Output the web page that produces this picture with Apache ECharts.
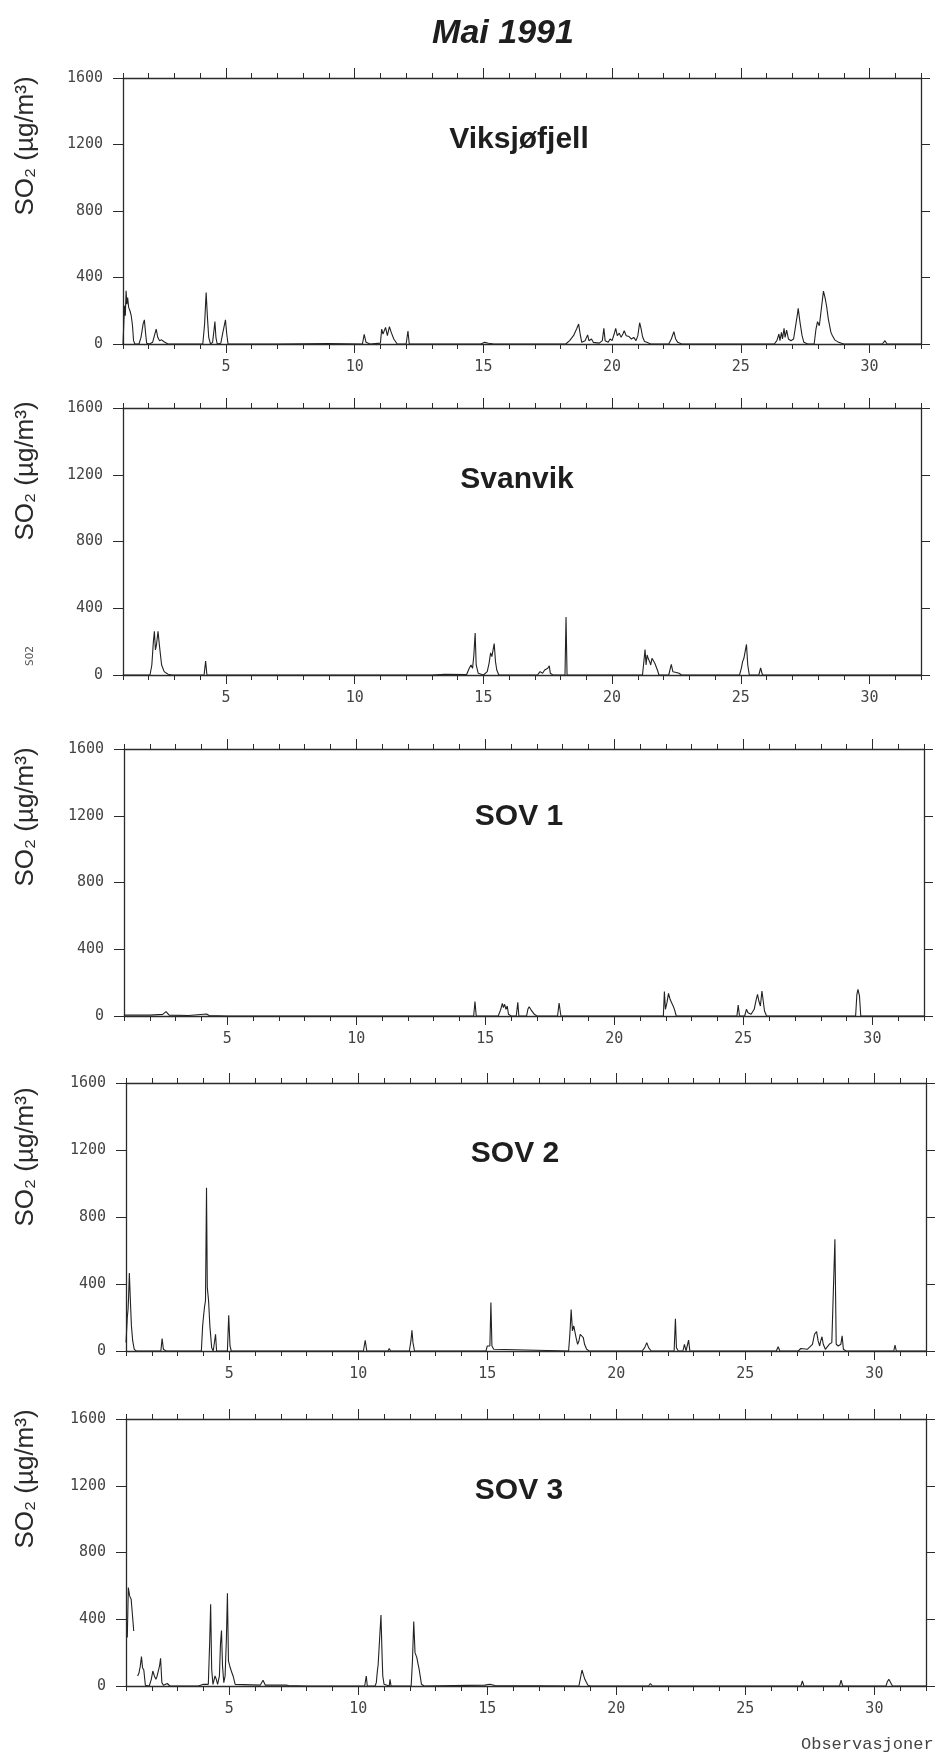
<!DOCTYPE html>
<html>
<head>
<meta charset="utf-8">
<script src="https://cdn.jsdelivr.net/npm/echarts@6/dist/echarts.min.js"></script>
<style>
html,body{margin:0;padding:0;background:#fff;}
#chart{width:939px;height:1753px;}
</style>
</head>
<body>
<div id="chart"></div>
<script>
// ---------- DATA ----------
const figureTitle = 'Mai 1991';
const stationNames = ['Viksjøfjell', 'Svanvik', 'SOV 1', 'SOV 2', 'SOV 3'];
const yAxisTitle = 'SO₂ (µg/m³)';
const xAxisTitle = 'Observasjoner';
const xMin = 1, xMax = 32;
const dayTicks = [1,2,3,4,5,6,7,8,9,10,11,12,13,14,15,16,17,18,19,20,21,22,23,24,25,26,27,28,29,30,31,32];
const dayLabels = [5, 10, 15, 20, 25, 30];
const yTicks = [0, 400, 800, 1200, 1600];

// [day of month (fractional), SO2 µg/m3]
const viksjofjell = [
  [1.0,0],[1.03,120],[1.06,230],[1.09,170],[1.12,320],[1.15,240],[1.18,280],[1.22,220],[1.27,200],[1.32,170],[1.37,110],[1.41,20],[1.46,0],
  [1.62,0],[1.7,40],[1.78,120],[1.83,145],[1.88,60],[1.92,5],[1.97,15],[2.03,0],
  [2.15,10],[2.22,50],[2.29,90],[2.35,40],[2.42,20],[2.5,25],[2.58,15],[2.66,8],[2.75,0],
  [3.5,0],[4.1,0],[4.17,120],[4.23,310],[4.28,160],[4.33,40],[4.4,0],[4.48,10],[4.54,90],[4.57,135],[4.61,40],[4.66,0],
  [4.8,5],[4.88,70],[4.93,75],[4.98,145],[5.03,60],[5.08,0],
  [7,0],[9,3],[10.3,0],[10.37,58],[10.44,10],[10.6,0],[11.0,5],[11.05,90],[11.1,60],[11.2,100],[11.27,50],[11.35,105],[11.42,70],[11.47,60],[11.52,30],[11.58,20],[11.65,0],
  [12.0,0],[12.07,78],[12.12,0],
  [14.9,0],[15.05,10],[15.2,5],[15.4,0],
  [18.2,0],[18.35,20],[18.5,50],[18.62,90],[18.7,120],[18.76,60],[18.82,10],[18.95,20],[19.05,55],[19.1,20],[19.2,30],[19.27,10],[19.5,5],
  [19.62,20],[19.68,94],[19.73,20],[19.85,10],[19.92,30],[20.0,20],[20.08,60],[20.14,94],[20.2,50],[20.28,65],[20.35,40],[20.42,60],[20.47,80],
  [20.55,50],[20.66,45],[20.75,30],[20.84,40],[20.93,20],[21.0,50],[21.07,128],[21.13,90],[21.18,45],[21.26,15],[21.35,10],[21.5,0],
  [22.2,0],[22.3,30],[22.4,74],[22.47,30],[22.55,10],[22.7,0],
  [26.3,0],[26.4,20],[26.48,60],[26.52,20],[26.58,70],[26.62,30],[26.68,94],[26.72,40],[26.78,83],[26.85,30],[26.95,20],
  [27.05,30],[27.12,100],[27.2,180],[27.23,214],[27.3,130],[27.38,50],[27.45,10],[27.6,0],
  [27.85,0],[27.92,90],[27.98,134],[28.05,110],[28.12,200],[28.21,318],[28.27,280],[28.33,230],[28.4,150],[28.45,110],[28.5,70],[28.56,50],[28.65,25],[28.8,10],[29.0,0],
  [30.5,0],[30.6,20],[30.68,0],[32,0]
];
const svanvik = [
  [1,0],[2.05,0],[2.12,60],[2.18,200],[2.22,262],[2.26,150],[2.3,180],[2.36,262],[2.42,170],[2.5,60],[2.6,20],[2.75,5],[2.9,0],
  [4.15,0],[4.21,83],[4.26,0],
  [13.0,0],[13.5,4],[14.35,3],[14.45,40],[14.52,60],[14.58,40],[14.63,120],[14.68,252],[14.72,60],[14.8,10],[15.0,0],
  [15.15,20],[15.22,70],[15.28,133],[15.33,110],[15.38,120],[15.42,188],[15.47,80],[15.52,30],[15.6,0],
  [17.1,0],[17.2,20],[17.3,10],[17.38,30],[17.45,20],[17.5,40],[17.56,55],[17.6,10],[17.7,0],
  [18.17,0],[18.21,348],[18.25,0],
  [21.18,0],[21.24,90],[21.28,153],[21.32,60],[21.36,120],[21.4,100],[21.46,80],[21.5,60],[21.55,100],[21.6,90],[21.66,70],[21.7,80],[21.76,30],[21.82,0],
  [22.2,0],[22.3,63],[22.36,20],[22.5,15],[22.6,10],[22.7,0],
  [24.95,0],[25.02,40],[25.07,80],[25.12,100],[25.17,90],[25.22,183],[25.27,60],[25.33,0],
  [25.7,0],[25.77,43],[25.84,0],[32,0]
];
const sov1 = [
  [1,5],[2,5],[2.5,10],[2.63,26],[2.75,5],[3.5,3],[4.2,12],[4.3,3],[5,0],
  [14.55,0],[14.6,86],[14.65,0],
  [15.5,0],[15.6,40],[15.66,76],[15.7,50],[15.75,70],[15.8,40],[15.85,60],[15.9,10],[16.0,0],
  [16.2,0],[16.26,82],[16.3,0],
  [16.6,0],[16.65,40],[16.7,56],[16.76,40],[16.83,35],[16.9,10],[17.0,0],
  [17.8,0],[17.86,78],[17.93,0],
  [21.9,0],[21.94,146],[21.98,40],[22.04,80],[22.1,136],[22.16,100],[22.22,80],[22.28,60],[22.33,40],[22.4,0],
  [24.75,0],[24.8,66],[24.85,0],[25.05,0],[25.12,40],[25.18,20],[25.3,10],[25.42,40],[25.5,100],[25.55,130],[25.6,90],[25.66,60],[25.72,150],[25.77,160],[25.82,30],[25.9,0],
  [29.35,0],[29.4,130],[29.44,160],[29.5,120],[29.55,0],[32,0]
];
const sov2 = [
  [1,50],[1.05,200],[1.08,250],[1.1,320],[1.13,466],[1.17,300],[1.21,150],[1.26,60],[1.32,10],[1.4,0],
  [2.35,0],[2.4,74],[2.45,10],[2.55,0],
  [3.92,0],[3.97,150],[4.0,200],[4.04,260],[4.08,300],[4.12,975],[4.15,380],[4.2,300],[4.25,150],[4.32,20],[4.38,0],
  [4.43,0],[4.47,100],[4.51,0],
  [4.93,0],[4.98,213],[5.03,30],[5.08,0],
  [10.2,0],[10.27,64],[10.33,0],
  [11.15,0],[11.2,15],[11.25,0],
  [11.98,0],[12.04,60],[12.08,124],[12.12,50],[12.18,0],
  [14.95,0],[15.0,30],[15.06,40],[15.1,30],[15.14,289],[15.18,30],[15.25,10],[15.3,0],
  [18.15,0],[18.2,100],[18.25,247],[18.3,120],[18.35,150],[18.39,150],[18.44,80],[18.5,40],[18.55,60],[18.6,100],[18.66,100],[18.72,80],[18.77,40],[18.85,10],[18.95,0],
  [21.0,0],[21.1,20],[21.18,50],[21.25,20],[21.35,0],
  [22.24,0],[22.29,193],[22.33,20],[22.4,0],[22.58,0],[22.64,40],[22.7,0],[22.75,0],[22.8,65],[22.85,0],
  [26.2,0],[26.27,25],[26.34,0],
  [27.05,0],[27.15,15],[27.4,10],[27.6,40],[27.68,100],[27.76,116],[27.82,60],[27.88,30],[27.92,60],[27.97,85],[28.02,40],[28.1,10],
  [28.25,40],[28.35,50],[28.42,60],[28.47,667],[28.52,40],[28.6,30],[28.7,40],[28.75,90],[28.8,10],[28.9,0],
  [30.75,0],[30.8,35],[30.85,0],[32,0]
];
const sov3 = [
  [1.05,290],[1.09,590],[1.14,540],[1.2,520],[1.26,510],[1.3,330],[1.31,null],
  [1.45,60],[1.5,76],[1.55,116],[1.6,176],[1.64,110],[1.69,96],[1.75,5],[1.9,0],[1.98,40],[2.04,90],[2.1,60],[2.16,40],[2.2,56],[2.25,60],[2.3,120],[2.34,166],[2.39,20],[2.45,5],[2.6,15],[2.7,0],
  [3.8,0],[4.0,10],[4.19,10],[4.24,250],[4.28,490],[4.32,100],[4.37,10],[4.45,60],[4.5,40],[4.55,10],[4.62,60],[4.66,250],[4.7,332],[4.74,120],[4.79,20],
  [4.84,60],[4.89,280],[4.93,556],[4.97,150],[5.02,120],[5.08,90],[5.15,60],[5.23,10],[5.3,5],
  [6.2,5],[6.31,35],[6.4,5],[7.2,5],[7.24,15],[7.3,3],[8,0],
  [10.25,0],[10.31,60],[10.35,0],[10.65,0],[10.7,20],[10.74,90],[10.77,126],[10.82,130],[10.88,426],[10.92,200],[10.95,60],[11.0,10],[11.05,0],[11.2,0],[11.23,40],[11.27,0],
  [12.05,0],[12.1,150],[12.15,386],[12.2,200],[12.27,170],[12.32,130],[12.36,100],[12.45,10],[12.55,0],
  [14.9,5],[15.1,10],[15.3,3],[18.55,0],[18.6,40],[18.67,96],[18.72,70],[18.78,40],[18.9,5],[19.0,0],
  [21.25,0],[21.32,15],[21.4,0],[27.15,0],[27.21,30],[27.27,0],[28.65,0],[28.71,35],[28.77,0],
  [30.45,0],[30.5,25],[30.56,40],[30.62,30],[30.7,0],[32,0]
];
const panelData = [viksjofjell, svanvik, sov1, sov2, sov3];

// ---------- LAYOUT ----------
const boxes = [
  {left:123, top:78,   width:798, height:266},
  {left:123, top:408,  width:798, height:267},
  {left:124, top:749,  width:800, height:267},
  {left:126, top:1083, width:800, height:268},
  {left:126, top:1419, width:800, height:267}
];
const titleY = [140, 480, 817, 1154, 1491];
const titleX = [519, 517, 519, 515, 519];
const yTitleOffset = [68, 63, 68, 74, 60];

const ink = '#2b2b2b';
const tickFont = '"DejaVu Sans Mono", "Liberation Mono", monospace';
const sansFont = '"Liberation Sans", Arial, Helvetica, sans-serif';

const grid = [], xAxis = [], yAxis = [], series = [], graphic = [];
boxes.forEach((b, i) => {
  grid.push({left:b.left, top:b.top, width:b.width, height:b.height, containLabel:false, show:false});
  const base = {gridIndex:i, type:'value', min:xMin, max:xMax, splitLine:{show:false}};
  xAxis.push(Object.assign({}, base, {position:'bottom',
    axisLine:{show:true, onZero:false, lineStyle:{color:ink, width:1.3}},
    axisTick:{show:true, inside:false, length:5, customValues:dayTicks, lineStyle:{color:ink, width:1}},
    axisLabel:{show:false}}));
  xAxis.push(Object.assign({}, base, {position:'bottom',
    axisLine:{show:false, onZero:false},
    axisTick:{show:true, inside:false, length:9, customValues:dayLabels, lineStyle:{color:ink, width:1}},
    axisLabel:{show:true, customValues:dayLabels, margin:16, fontFamily:tickFont, fontSize:15, color:'#444'}}));
  xAxis.push(Object.assign({}, base, {position:'top',
    axisLine:{show:true, onZero:false, lineStyle:{color:ink, width:1.3}},
    axisTick:{show:true, inside:false, length:5, customValues:dayTicks, lineStyle:{color:ink, width:1}},
    axisLabel:{show:false}}));
  xAxis.push(Object.assign({}, base, {position:'top',
    axisLine:{show:false, onZero:false},
    axisTick:{show:true, inside:false, length:10, customValues:dayLabels, lineStyle:{color:ink, width:1}},
    axisLabel:{show:false}}));
  yAxis.push({gridIndex:i, type:'value', min:0, max:1600, interval:400, position:'left',
    splitLine:{show:false},
    axisLine:{show:true, onZero:false, lineStyle:{color:ink, width:1.3}},
    axisTick:{show:true, inside:false, length:10, customValues:yTicks, lineStyle:{color:ink, width:1}},
    axisLabel:{show:true, customValues:yTicks, margin:20, fontFamily:tickFont, fontSize:15, color:'#444',
      formatter:(v) => String(v)}});
  yAxis.push({gridIndex:i, type:'value', min:0, max:1600, interval:400, position:'right',
    splitLine:{show:false},
    axisLine:{show:true, onZero:false, lineStyle:{color:ink, width:1.3}},
    axisTick:{show:true, inside:false, length:9, customValues:yTicks, lineStyle:{color:ink, width:1}},
    axisLabel:{show:false}});
  series.push({type:'line', name:stationNames[i], xAxisIndex:i*4, yAxisIndex:i*2,
    data:panelData[i], symbol:'none', showSymbol:false, connectNulls:false,
    lineStyle:{color:'#222', width:1.1}, itemStyle:{color:'#222'}, animation:false, z:3});
  graphic.push({type:'text', x:titleX[i], y:titleY[i], style:{text:stationNames[i],
    font:'bold 30px ' + sansFont, fill:'#1e1e1e', textAlign:'center', textVerticalAlign:'middle', align:'center', verticalAlign:'middle'}});
  graphic.push({type:'text', x:26, y:b.top + yTitleOffset[i], rotation:Math.PI/2, style:{text:yAxisTitle,
    font:'26px ' + sansFont, fill:'#2a2a2a', textAlign:'center', textVerticalAlign:'middle', align:'center', verticalAlign:'middle'}});
});
graphic.push({type:'text', x:30, y:656, rotation:Math.PI/2, style:{text:'SO2',
  font:'11px ' + tickFont, fill:'#555', textAlign:'center', textVerticalAlign:'middle', align:'center', verticalAlign:'middle'}});
graphic.push({type:'text', x:503, y:34, style:{text:figureTitle,
  font:'italic bold 34px ' + sansFont, fill:'#1e1e1e', textAlign:'center', textVerticalAlign:'middle', align:'center', verticalAlign:'middle'}});
graphic.push({type:'text', x:801, y:1744, style:{text:xAxisTitle,
  font:'17px "Liberation Mono", "DejaVu Sans Mono", monospace', fill:'#444', textAlign:'left', textVerticalAlign:'middle', align:'left', verticalAlign:'middle'}});

const chart = echarts.init(document.getElementById('chart'), null, {renderer:'canvas'});
chart.setOption({
  backgroundColor:'#ffffff',
  animation:false,
  grid, xAxis, yAxis, series, graphic
});
</script>
</body>
</html>
